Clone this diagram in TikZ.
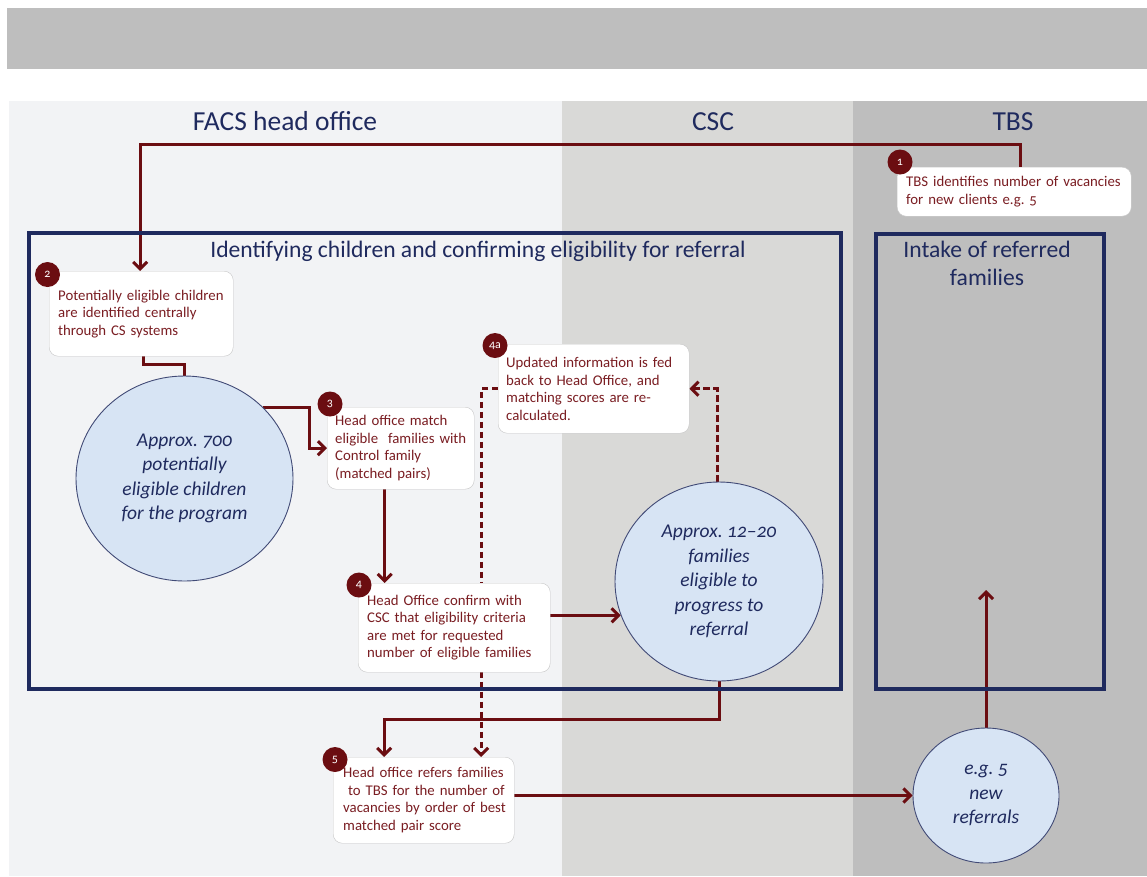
\documentclass[tikz,border=0pt]{standalone}
\usepackage{fontspec}
\setmainfont{Carlito}[Numbers=OldStyle]
\usetikzlibrary{arrows.meta,shapes.geometric}
\definecolor{navy}{HTML}{1F2A5E}
\definecolor{wine}{HTML}{6B0D11}
\definecolor{winetext}{HTML}{7A1D22}
\definecolor{topbar}{HTML}{BEBEBE}
\definecolor{facs}{HTML}{F2F3F5}
\definecolor{csc}{HTML}{D9D9D7}
\definecolor{tbs}{HTML}{BEBEBE}
\definecolor{bubblefill}{HTML}{D7E4F4}
\definecolor{boxline}{HTML}{C6C6C6}
\pgfdeclarelayer{bg}
\pgfdeclarelayer{conn}
\pgfsetlayers{bg,conn,main}
\newcommand{\oneline}[1]{\mbox{#1}}
\begin{document}
\frenchspacing
\begin{tikzpicture}[x=1pt,y=-1pt,
  heading/.style={text=navy,font=\fontsize{27.5}{31}\selectfont,inner sep=0},
  frametitle/.style={text=navy,font=\fontsize{23.6}{28}\selectfont,inner sep=0,align=center},
  frame/.style={draw=navy,line width=4,anchor=north west,inner sep=0},
  tbox/.style={draw=boxline,fill=white,rounded corners=9,inner xsep=9,inner ysep=0,
    align=left,text=winetext,font=\fontsize{14.8}{17.5}\selectfont\frenchspacing,anchor=north west},
  badge/.style={circle,fill=wine,text=white,minimum size=25,inner sep=0,
    font=\fontsize{12}{12}\selectfont},
  bubble/.style={ellipse,draw=navy!85,line width=0.9,fill=bubblefill,inner sep=0,
    align=center,text=navy,font=\fontsize{19.5}{24.5}\selectfont\itshape\frenchspacing},
  ln/.style={draw=wine,line width=3},
  arr/.style={ln,-{Straight Barb[length=7,width=14]}},
  darr/.style={arr,dash pattern=on 6.5 off 3.5}]
\useasboundingbox (0,0) rectangle (1147,876);
\begin{pgfonlayer}{bg}
\fill[white] (0,0) rectangle (1147,876);
\fill[topbar] (7,8) rectangle (1147,69);
\fill[facs] (9,101) rectangle (562,876);
\fill[csc] (562,101) rectangle (853,876);
\fill[tbs] (853,101) rectangle (1147,876);
\end{pgfonlayer}

% lane headings
\node[heading,anchor=base] (hFACS) at (285,130) {FACS head office};
\node[heading,anchor=base] (hCSC) at (713,130) {CSC};
\node[heading,anchor=base] (hTBS) at (1013,130) {TBS};

% frames
\node[frame,minimum width=812,minimum height=456] (mainbox) at (27,231) {};
\node[frametitle,anchor=base] (mainTitle) at (478,257) {Identifying children and confirming eligibility for referral};
\node[frame,minimum width=228,minimum height=455] (intake) at (874,232) {};
\node[frametitle,anchor=north] (intakeTitle) at (987,241) {Intake of referred\\families};

% text boxes
\node[tbox,text width=216,minimum height=49] (b1) at (897,167) {\oneline{TBS identifies number of vacancies}\\\oneline{for new clients e.g. 5}};
\node[tbox,text width=166,minimum height=85] (b2) at (49,271) {\oneline{Potentially eligible children}\\\oneline{are identified centrally}\\\oneline{through CS systems}};
\node[tbox,inner xsep=8,text width=131,minimum height=82] (b3) at (327,407) {\oneline{Head office match}\\\oneline{eligible\ \ families with}\\\oneline{Control family}\\\oneline{(matched pairs)}};
\node[tbox,inner xsep=8,text width=175,minimum height=89] (b4a) at (498,344) {\oneline{Updated information is fed}\\\oneline{back to Head Office, and}\\\oneline{matching scores are re-}\\\oneline{calculated.}};
\node[tbox,text width=174,minimum height=89] (b4) at (358,583) {\oneline{Head Office confirm with}\\\oneline{CSC that eligibility criteria}\\\oneline{are met for requested}\\\oneline{number of eligible families}};
\node[tbox,inner xsep=10,text width=161,minimum height=86] (b5) at (333,757) {\oneline{Head office refers families}\\\oneline{\ to TBS for the number of}\\\oneline{vacancies by order of best}\\\oneline{matched pair score}};

% bubbles
\node[bubble,minimum width=217,minimum height=205] (c1) at (184.5,478.5) {Approx. 700\\potentially\\eligible children\\for the program};
\node[bubble,minimum width=208,minimum height=199] (c2) at (719,581.5) {Approx. 12--20\\families\\eligible to\\progress to\\referral};
\node[bubble,minimum width=146,minimum height=135] (c3) at (986,795.5) {e.g. 5\\new\\referrals};

% badges
\node[badge] (n1) at (900,162) {1};
\node[badge] (n2) at (47.5,274.5) {2};
\node[badge] (n3) at (330,404) {3};
\node[badge] (n4a) at (495,345.5) {4a};
\node[badge] (n4) at (359,585) {4};
\node[badge] (n5) at (335,759.5) {5};

\coordinate (intakeTip) at (986,590);

% connectors
\begin{pgfonlayer}{conn}
\draw[arr] ([xshift=6]b1.north) -- ++(0,-23) -| ([xshift=-1]b2.north);
\draw[ln] ([xshift=2]b2.south) -- ++(0,8) -| (c1.north);
\draw[arr] (c1.42) -| ([xshift=-18]b3.west) -- (b3.west);
\draw[arr] ([xshift=-16]b3.south) -- ([xshift=-16]b3.south |- b4.north);
\draw[arr] (b4.east |- c2.199) -- (c2.199);
\draw[darr] ([xshift=-2]c2.north) |- (b4a.east);
\draw[darr] (b4a.west) -| ([xshift=57.5]b5.north);
\draw[arr] (c2.south) -- ++(0,38) -| ([xshift=-39.5]b5.north);
\draw[arr] (b5.east |- c3.west) -- (c3.west);
\draw[arr] (c3.north) -- (intakeTip);
\end{pgfonlayer}
\end{tikzpicture}
\end{document}
